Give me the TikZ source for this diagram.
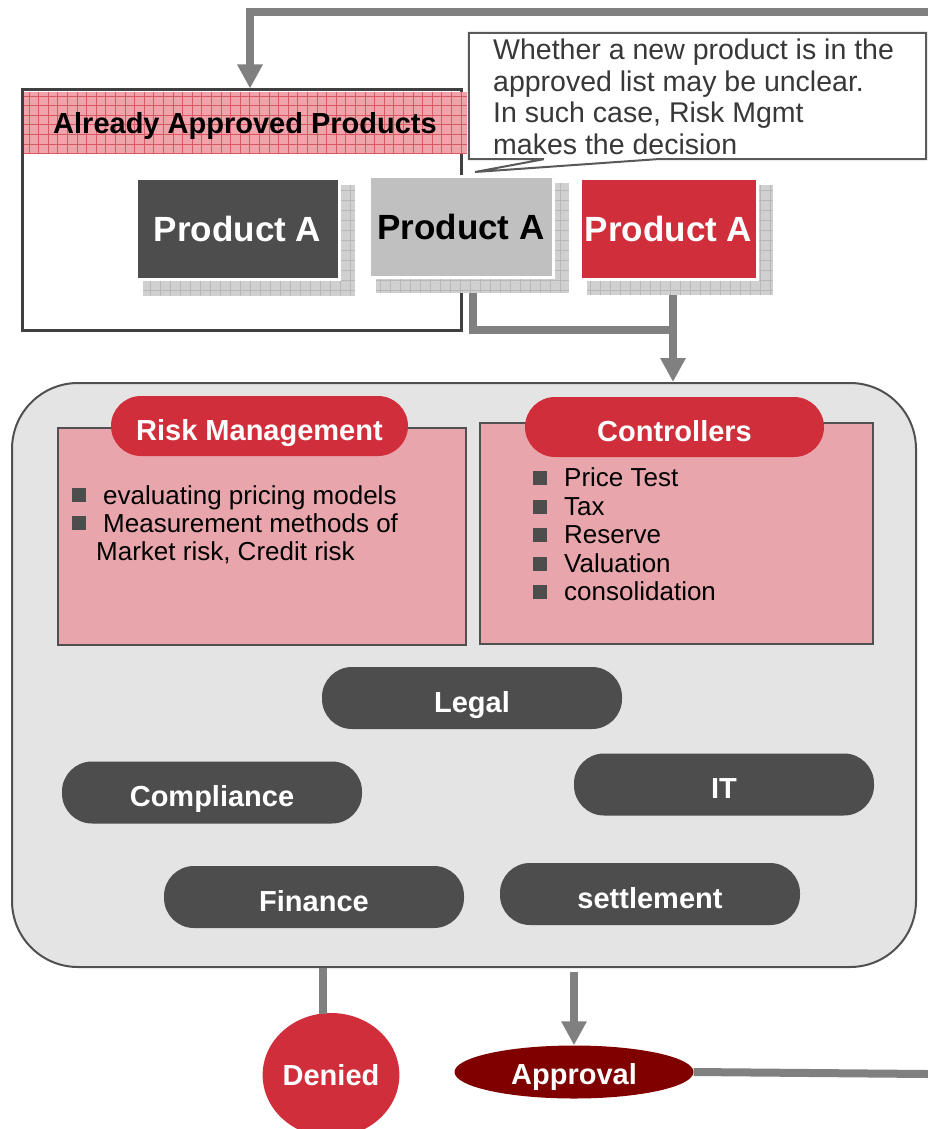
\documentclass[tikz,border=0pt]{standalone}
\usepackage{fontspec}
\setmainfont{Liberation Sans}
\usetikzlibrary{arrows.meta,shapes.geometric}
\definecolor{cred}{HTML}{D12E3B}
\definecolor{cdark}{HTML}{4D4D4D}
\definecolor{clgray}{HTML}{C0C0C0}
\definecolor{cmaroon}{HTML}{800000}
\definecolor{cline}{HTML}{808080}
\definecolor{cpanel}{HTML}{E8A6AC}
\definecolor{cbg}{HTML}{E4E4E4}
\definecolor{chead}{HTML}{F0A3AB}
\definecolor{cshadow}{HTML}{D0D0D0}
\definecolor{cborder}{HTML}{505050}
% grid texture clipped to a rectangle
\newcommand\gridtex[4]{\begin{scope}\clip #1 rectangle #2;
  \draw[#3, line width=0.6pt, step=#4] #1 grid #2;\end{scope}}
\newcommand\bsq[1]{\textcolor{cdark}{\rule[#1]{14pt}{14pt}}}
\begin{document}
\begin{tikzpicture}[x=1pt,y=-1pt,
  conn/.style={draw=cline,line width=8pt},
  arr/.style={conn,-{Triangle[width=24pt,length=24pt]}},
  lbl/.style={font=\fontsize{29}{32}\selectfont\bfseries},
  prod/.style={draw=white,line width=3pt,inner sep=0pt,minimum height=101pt,
    font=\fontsize{35}{38}\selectfont\bfseries},
  pill/.style={fill=cdark,rounded corners=30pt,minimum width=300pt,minimum height=62pt,
    inner sep=0pt,text=white,lbl,text height=28pt,text depth=0pt},
  redpill/.style={fill=cred,rounded corners=30pt,minimum height=60pt,
    inner sep=0pt,text=white,lbl,text height=28pt,text depth=0pt},
  panel/.style={draw=cborder,line width=1.5pt,fill=cpanel,inner sep=0pt},
  item/.style={anchor=base west,inner sep=0pt,font=\fontsize{26}{28}\selectfont},
  note/.style={anchor=north west,inner sep=0pt,align=left,text=black!78,
    font=\fontsize{28.5}{31.5}\selectfont}]
\useasboundingbox (0,0) rectangle (928,1129);

% ---------- already approved products ----------
\node[draw=black!75,line width=3pt,minimum width=439pt,minimum height=240pt,inner sep=0pt]
  (ab) at (241.5,210) {};
\fill[chead] (24,92) rectangle (467,154);
\gridtex{(24,92)}{(467,154)}{cred!80}{9.6pt}
\node[lbl,text=black,text height=26pt,text depth=0pt] (abt) at (245,120) {Already Approved Products};

% ---------- callout ----------
\node[inner sep=0pt,minimum width=457pt,minimum height=126pt] (co) at (697.5,96) {};
\coordinate (tip) at (475,172);
\draw[draw=black!65,line width=2pt,fill=white]
  (co.south west) -- ([xshift=75pt]co.south west) -- (tip) -- ([xshift=188pt]co.south west)
  -- (co.south east) -- (co.north east) -- (co.north west) -- cycle;
\node[note] (cot) at (493,39) {Whether a new product is in the\\approved list may be unclear.\\In such case, Risk Mgmt\\makes the decision};

% ---------- connectors below the products ----------
\node[prod,fill=clgray,minimum width=184pt] (pb) at (461,226.5) {};
\node[prod,fill=cred,minimum width=177pt] (pc) at (668.5,228.5) {};
\node[draw=cborder,line width=2pt,fill=cbg,rounded corners=66pt,
  minimum width=904pt,minimum height=584pt,inner sep=0pt] (main) at (464,675) {};
\coordinate (pbs) at ([xshift=11.5pt]pb.south);
\coordinate (pcs) at ([xshift=4.5pt]pc.south);
\coordinate (jn) at (pcs |- 0,330);
\draw[conn] (pbs) |- (jn);
\draw[arr] (pcs) -- (pcs |- main.north);

% ---------- product boxes with shadows ----------
\fill[cshadow] (143,185) rectangle (355,296);
\gridtex{(143,185)}{(355,296)}{black!28}{10pt}
\fill[cshadow] (376,183) rectangle (569,293);
\gridtex{(376,183)}{(569,293)}{black!28}{10pt}
\fill[cshadow] (587,185) rectangle (773,295);
\gridtex{(587,185)}{(773,295)}{black!28}{10pt}
\node[prod,fill=cdark,minimum width=203pt,text=white] (pa) at (237.5,228.5) {Product A};
\node[prod,fill=clgray,minimum width=184pt,text=black] (pb2) at (461,226.5) {Product A};
\node[prod,fill=cred,minimum width=177pt,text=white] (pc2) at (668.5,228.5) {Product A};

% ---------- top feedback arrow ----------
\coordinate (topR) at (928,12);
\draw[arr] (topR) -| ([xshift=8.5pt]ab.north);

% ---------- review functions ----------
\node[panel,minimum width=408pt,minimum height=217pt] (rm) at (262,536.5) {};
\node[panel,minimum width=393pt,minimum height=221pt] (ct) at (676.5,533.5) {};
\node[redpill,minimum width=297pt] (rmh) at (259.5,426) {Risk Management};
\node[redpill,minimum width=299pt] (cth) at (674.5,427) {Controllers};

\node[item] (rm1) at (72,504) {\bsq{2pt}\hspace{17pt}evaluating pricing models};
\node[item] (rm2) at (72,532) {\bsq{2pt}\hspace{17pt}Measurement methods of};
\node[item] (rm3) at (96,560) {Market risk, Credit risk};

\node[item] (c1) at (533,486) {\bsq{1pt}\hspace{17pt}Price Test};
\node[item] (c2) at (533,515) {\bsq{1pt}\hspace{17pt}Tax};
\node[item] (c3) at (533,543) {\bsq{1pt}\hspace{17pt}Reserve};
\node[item] (c4) at (533,572) {\bsq{1pt}\hspace{17pt}Valuation};
\node[item] (c5) at (533,600) {\bsq{1pt}\hspace{17pt}consolidation};

\node[pill] (legal) at (472,698) {Legal};
\node[pill] (comp) at (212,792.5) {Compliance};
\node[pill] (it) at (724,784.5) {IT};
\node[pill] (fin) at (314,897) {Finance};
\node[pill] (set) at (650,894) {settlement};

% ---------- outcomes ----------
\node[ellipse,fill=cred,minimum width=128pt,minimum height=124pt,inner sep=0pt,
  text=white,lbl] (den) at (331,1075) {Denied};
\node[ellipse,fill=cmaroon,minimum width=239pt,minimum height=53pt,inner sep=0pt,
  text=white,lbl,text height=24pt,text depth=0pt] (ap) at (574,1072) {Approval};
\coordinate (dtop) at (323,1014);
\draw[conn] (dtop |- main.south) -- (dtop);
\draw[arr] ([yshift=-4pt]ap.north |- main.south) -- (ap.north);
\coordinate (apR) at (928,1074);
\draw[conn] (ap.east) -- (apR);
\end{tikzpicture}
\end{document}
